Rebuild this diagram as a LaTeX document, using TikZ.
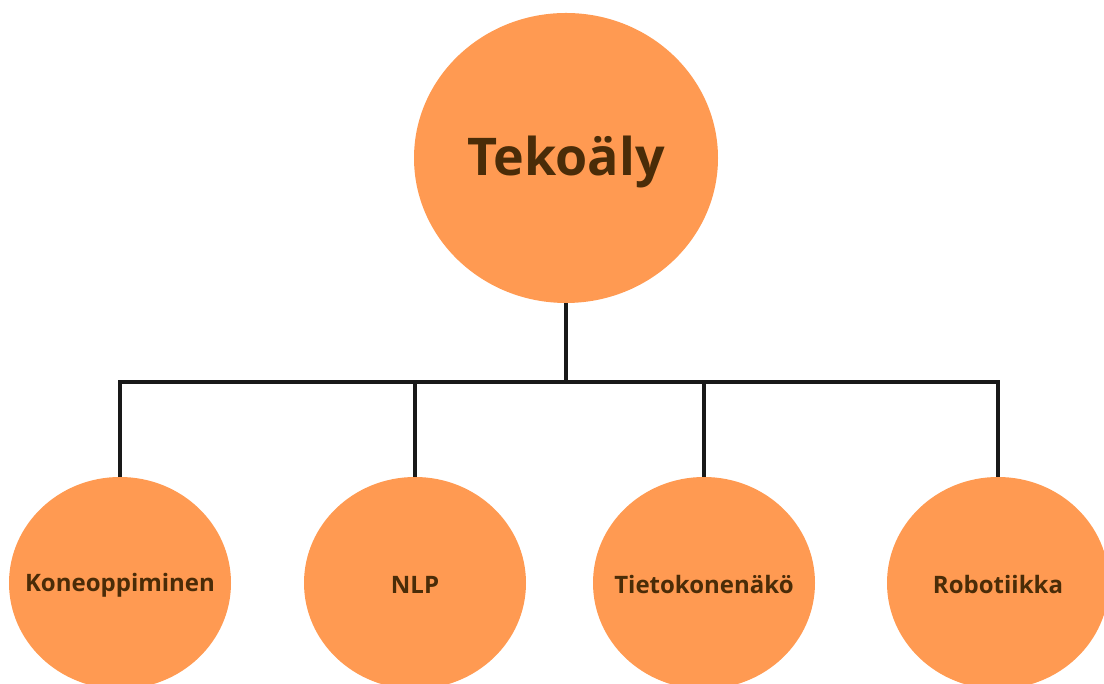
\documentclass[tikz,border=0pt]{standalone}
\usepackage{fontspec}
\setmainfont{Open Sans}
\usetikzlibrary{shapes.geometric}
\definecolor{topicorange}{HTML}{FF9A52}
\definecolor{topictext}{HTML}{4A2C08}

\begin{document}
\begin{tikzpicture}[x=1pt, y=1pt,
    topic/.style={ellipse, fill=topicorange, inner sep=0pt},
    bigtopic/.style={topic, minimum width=304pt, minimum height=290pt},
    subtopic/.style={topic, minimum width=222pt, minimum height=212pt},
    bigtext/.style={text=topictext, font=\bfseries\fontsize{52}{60}\selectfont, yshift=-4pt},
    subtext/.style={text=topictext, font=\bfseries\fontsize{24}{28}\selectfont, yshift=-2pt},
    link/.style={line width=3.2pt, draw=black!90, line join=miter}]
            \useasboundingbox (0, 0) rectangle (1104, 684);
            \node[bigtopic, label={[bigtext]center:Tekoäly}] (ai) at (566, 526) {};
            \node[subtopic, label={[subtext]center:Koneoppiminen}] (ml) at (120, 101) {};
            \node[subtopic, label={[subtext]center:NLP}] (nlp) at (415, 101) {};
            \node[subtopic, label={[subtext]center:Tietokonenäkö}] (cv) at (704, 101) {};
            \node[subtopic, label={[subtext]center:Robotiikka}] (rob) at (998, 101) {};
            \coordinate (bus) at (566, 302);
            \draw[link] (ai.south) -- (bus);
            \draw[link] (ml.north) |- (bus);
            \draw[link] (rob.north) |- (bus);
            \draw[link] (nlp.north) -- (nlp.north |- bus);
            \draw[link] (cv.north) -- (cv.north |- bus);
        \end{tikzpicture}
\end{document}
